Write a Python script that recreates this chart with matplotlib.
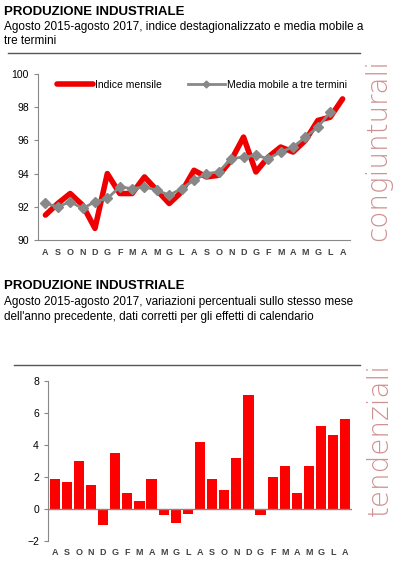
import matplotlib
matplotlib.use("Agg")
import matplotlib.pyplot as plt
import numpy as np

months = ["A","S","O","N","D","G","F","M","A","M","G","L","A","S","O","N","D","G","F","M","A","M","G","L","A"]
indice = [91.5,92.2,92.8,92.1,90.7,94.0,92.8,92.8,93.8,93.0,92.2,92.9,94.2,93.8,93.9,94.8,96.2,94.1,95.0,95.6,95.3,96.0,97.2,97.4,98.5]
media = [92.2,92.0,92.3,91.9,92.3,92.5,93.2,93.1,93.2,93.0,92.7,93.1,93.6,94.0,94.1,94.9,95.0,95.1,94.9,95.3,95.6,96.2,96.8,97.7,np.nan]
tend = [1.9,1.7,3.0,1.5,-1.0,3.5,1.0,0.5,1.9,-0.4,-0.9,-0.3,4.2,1.9,1.2,3.2,7.1,-0.35,2.0,2.7,1.0,2.7,5.2,4.6,5.6]

plt.rcParams['font.family'] = ['Liberation Sans', 'DejaVu Sans']
W, H = 404, 562
fig = plt.figure(figsize=(W/100, H/100), dpi=100)

def fx(px): return px / W
def fy(py): return 1 - py / H

fig.text(fx(4), fy(12), "PRODUZIONE INDUSTRIALE", fontsize=9.5, fontweight='bold', va='center')
fig.text(fx(4), fy(27), "Agosto 2015-agosto 2017, indice destagionalizzato e media mobile a", fontsize=8.5, va='center')
fig.text(fx(4), fy(41), "tre termini", fontsize=8.5, va='center')
fig.add_artist(plt.Line2D([fx(8), fx(360)], [fy(53), fy(53)], color='#555555', lw=1))

fig.text(fx(4), fy(286), "PRODUZIONE INDUSTRIALE", fontsize=9.5, fontweight='bold', va='center')
fig.text(fx(4), fy(302), "Agosto 2015-agosto 2017, variazioni percentuali sullo stesso mese", fontsize=8.5, va='center')
fig.text(fx(4), fy(317), "dell'anno precedente, dati corretti per gli effetti di calendario", fontsize=8.5, va='center')
fig.add_artist(plt.Line2D([fx(14), fx(360)], [fy(365), fy(365)], color='#555555', lw=1))

fig.text(fx(378), fy(150), "congiunturali", rotation=90, fontsize=20, color='#cf9090',
         family=['DejaVu Sans'], fontweight='light', va='center', ha='center')
fig.text(fx(380), fy(440), "tendenziali", rotation=90, fontsize=20, color='#cf9090',
         family=['DejaVu Sans'], fontweight='light', va='center', ha='center')

x = np.arange(len(months))

ax1 = fig.add_axes([fx(38), fy(240), fx(350-38), fy(74)-fy(240)])
ax1.plot(x, indice, color='#ee0000', lw=4, label='Indice mensile', solid_capstyle='round')
ax1.plot(x, media, color='#888888', lw=2, marker='D', ms=5, label='Media mobile a tre termini')
ax1.set_ylim(90, 100)
ax1.set_yticks([90,92,94,96,98,100])
ax1.set_xlim(-0.6, len(months)-0.4)
ax1.set_xticks(x)
ax1.set_xticklabels(months, fontsize=6.5, fontweight='bold', color='#444444')
ax1.tick_params(axis='y', labelsize=7.5, length=3, color='#888888')
ax1.tick_params(axis='x', length=0, pad=6)
for s in ['top', 'right']:
    ax1.spines[s].set_visible(False)
for s in ['left', 'bottom']:
    ax1.spines[s].set_color('#888888')
ax1.legend(loc='upper left', ncol=2, frameon=False, fontsize=7.5, handlelength=3.5,
           bbox_to_anchor=(0.03, 1.02), columnspacing=2.5, handletextpad=0.2, markerscale=0.7)

ax2 = fig.add_axes([fx(48), fy(541), fx(352-48), fy(381)-fy(541)])
ax2.bar(x, tend, width=0.85, color='#ff0000')
ax2.set_ylim(-2, 8)
ax2.set_yticks([-2,0,2,4,6,8])
ax2.set_xlim(-0.55, len(months)-0.45)
ax2.set_xticks(x)
ax2.set_xticklabels(months, fontsize=6.5, fontweight='bold', color='#444444')
ax2.tick_params(axis='y', labelsize=7.5, length=3, color='#888888')
ax2.tick_params(axis='x', length=0, pad=5)
ax2.axhline(0, color='#888888', lw=1)
for s in ['top', 'right', 'bottom']:
    ax2.spines[s].set_visible(False)
ax2.spines['left'].set_color('#888888')

fig.savefig("out.png", dpi=100)
